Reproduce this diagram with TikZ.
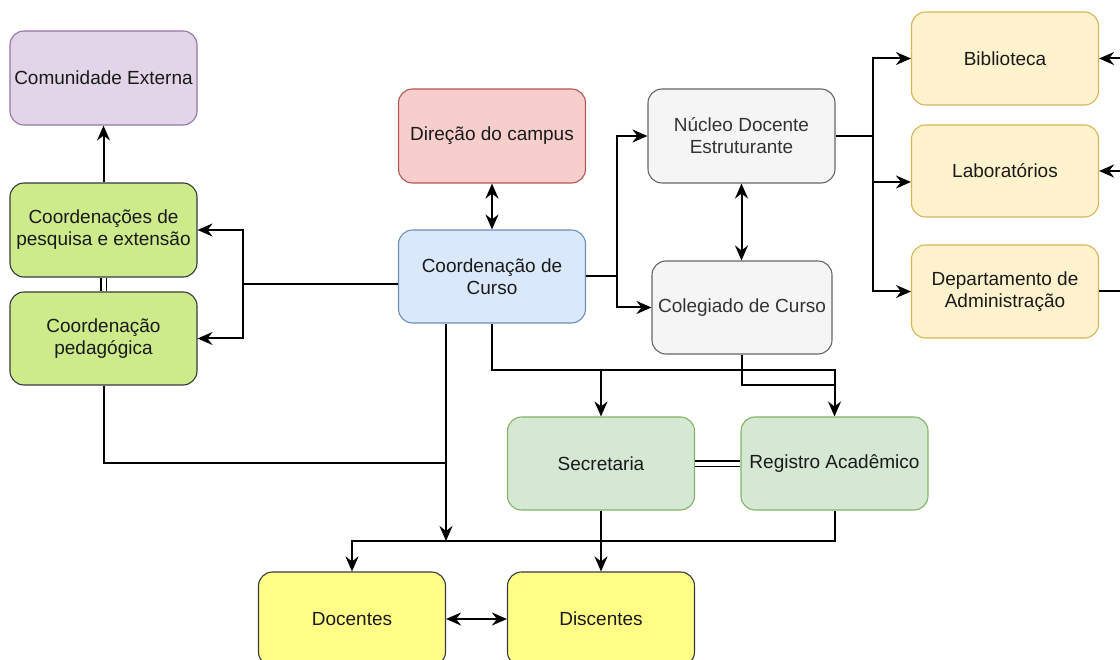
\documentclass[tikz,border=0pt]{standalone}
\usepackage{fontspec}
\setmainfont{Liberation Sans}
\usetikzlibrary{arrows.meta}
\definecolor{purpF}{HTML}{E1D5E7}\definecolor{purpD}{HTML}{9673A6}
\definecolor{limeF}{HTML}{CDEB8B}\definecolor{darkD}{HTML}{36393D}
\definecolor{redF}{HTML}{F8CECC}\definecolor{redD}{HTML}{B85450}
\definecolor{blueF}{HTML}{DAE8FC}\definecolor{blueD}{HTML}{6C8EBF}
\definecolor{grayF}{HTML}{F5F5F5}\definecolor{grayD}{HTML}{666666}\definecolor{grayT}{HTML}{333333}
\definecolor{ambF}{HTML}{FFF2CC}\definecolor{ambD}{HTML}{D6B656}
\definecolor{grnF}{HTML}{D5E8D4}\definecolor{grnD}{HTML}{82B366}
\definecolor{yelF}{HTML}{FFFF88}
\definecolor{txt}{HTML}{1A1A1A}
\begin{document}
\begin{tikzpicture}[x=1pt,y=-1pt,
  box/.style={draw, rounded corners=14pt, minimum width=187pt, minimum height=94pt,
    inner sep=2pt, align=center, line width=1.1pt, text=txt,
    font=\fontsize{19}{22}\selectfont},
  purp/.style={box, fill=purpF, draw=purpD},
  lime/.style={box, fill=limeF, draw=darkD},
  redb/.style={box, fill=redF, draw=redD},
  blueb/.style={box, fill=blueF, draw=blueD},
  grayb/.style={box, fill=grayF, draw=grayD, text=grayT},
  amb/.style={box, fill=ambF, draw=ambD},
  grnb/.style={box, fill=grnF, draw=grnD},
  yelb/.style={box, fill=yelF, draw=darkD},
  conn/.style={line width=2pt, draw=black},
  arr/.style={conn, -{Stealth[length=15pt,width=13pt,inset=5pt]}},
  darr/.style={conn, {Stealth[length=15pt,width=13pt,inset=5pt]}-{Stealth[length=15pt,width=13pt,inset=5pt]}},
  dbl/.style={line width=1.5pt, double=white, double distance=4pt}
]
\useasboundingbox (0,0) rectangle (1120,660);

\node[purp]  (ce)  at (103.5,78)   {Comunidade Externa};
\node[lime]  (cpe) at (103.5,230)  {Coordenações de\\pesquisa e extensão};
\node[lime, minimum height=93pt]  (cp)  at (103.5,338.5) {Coordenação\\pedagógica};
\node[redb]  (dir) at (492,136)    {Direção do campus};
\node[blueb, minimum height=93pt] (cc)  at (492,276.5)  {Coordenação de\\Curso};
\node[grayb] (nde) at (741.5,136)  {Núcleo Docente\\Estruturante};
\node[grayb, minimum width=180pt, minimum height=93pt] (col) at (742,307.5) {Colegiado de Curso};
\node[amb, minimum height=93pt] (bib) at (1005,58.5) {Biblioteca};
\node[amb, minimum height=92pt] (lab) at (1005,171)  {Laboratórios};
\node[amb, minimum height=93pt] (dep) at (1005,291.5) {Departamento de\\Administração};
\node[grnb, minimum height=93pt] (sec) at (601,463.5)  {Secretaria};
\node[grnb, minimum height=93pt] (reg) at (834.5,463.5) {Registro Acadêmico};
\node[yelb] (doc) at (352,619) {Docentes};
\node[yelb] (dis) at (601,619) {Discentes};

% left group
\draw[arr] (cpe) -- (ce);
\draw[dbl] (cpe) -- (cp);
\coordinate (jL) at (243,284);
\draw[conn] (cc.west |- jL) -- (jL);
\draw[arr] (jL) |- (cpe.east);
\draw[arr] (jL) |- (cp.east);

% direction
\draw[darr] (dir) -- (cc);

% right of course coordination
\coordinate (jR) at (617,276.5);
\draw[conn] (cc.east) -- (jR);
\draw[arr] (jR) |- (nde.west);
\draw[arr] (jR) |- (col.west);
\draw[darr] (nde.south) -- (nde.south |- col.north);

% NDE to resources
\coordinate (jN) at (873,136);
\draw[conn] (nde.east) -- (jN);
\draw[arr] (jN) |- (bib.west);
\draw[arr] (jN) |- ([yshift=-11pt]lab.west);
\draw[arr] (jN) |- (dep.west);

% right edge (partly outside)
\coordinate (jE) at (1140,291.5);
\draw[conn] (dep.east) -- (jE);
\draw[arr] (jE) |- (bib.east);
\draw[arr] (jE) |- (lab.east);

% down to secretaria / registro
\coordinate (r1) at (834.5,370);
\coordinate (r2) at (834.5,385);
\draw[arr] (cc.south) -- (cc.south |- r1) -- (r1) -- (reg.north);
\draw[arr] (sec.north |- r1) -- (sec.north);
\draw[conn] (col.south) |- (r2);
\draw[dbl] (sec) -- (reg);

% to docentes
\coordinate (jD) at (446,541);
\coordinate (jP) at (446,463);
\draw[arr] (jD |- cc.south) -- (jD);
\draw[conn] (cp.south) |- (jP);
\coordinate (e1) at (834.5,541);
\draw[arr] (reg.south) -- (e1) -| (doc.north);
\draw[arr] (sec) -- (dis);
\draw[darr] (doc) -- (dis);
\end{tikzpicture}
\end{document}
